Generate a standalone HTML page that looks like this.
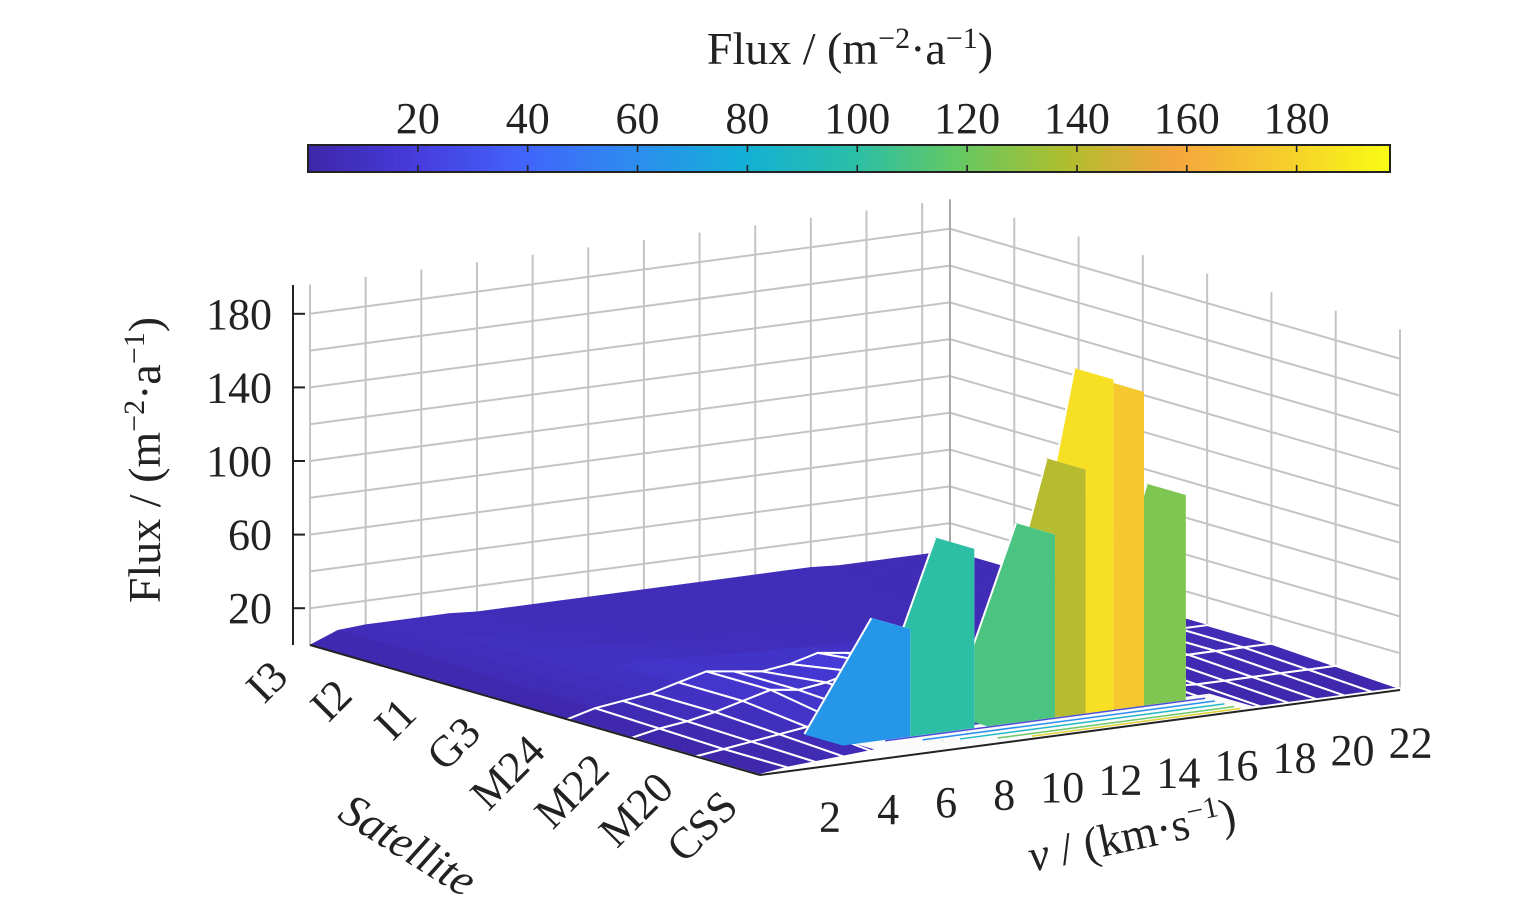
<!DOCTYPE html>
<html><head><meta charset="utf-8">
<style>
html,body{margin:0;padding:0;background:#fff;}
svg{display:block;font-family:"Liberation Serif",serif;}
</style></head>
<body>
<svg id="chart" width="1535" height="917" viewBox="0 0 1535 917" xmlns="http://www.w3.org/2000/svg"></svg>
<script>
// ---- data ----
const satellites = ["I3","I2","I1","G3","M24","M22","M20","CSS"];
const velocityTicks = [2,4,6,8,10,12,14,16,18,20,22];
const zTicks = [20,60,100,140,180];
const colorbarTicks = [20,40,60,80,100,120,140,160,180];
const rowI3  = [0,6,7,7,7,7,6,6,6,6,6,6,6,6,6,6,6,6,6,5,5,5,5,5];
const rowI2  = [0,6,7,8,8,7,7,6,6,6,6,6,6,6,6,6,6,6,6,5,5,5,5,5];
const rowI1  = [0,5,7,9,10,9,8,7,7,6,6,6,6,6,6,6,6,6,5,5,5,5,5,5];
const rowG3  = [0,4,6,8,10,12,11,10,9,8,8,7,7,7,6,6,5,5,5,5,5,5,5,5];
const rowM24 = [0,4,6,8,12,16,14,12,14,18,16,14,12,10,8,6,5,5,5,5,5,5,5,5];
const rowM22 = [0,3,5,8,12,16,14,16,20,22,22,20,18,14,12,10,8,6,5,5,5,5,5,5];
const rowM20 = [0,2,4,6,8,10,12,14,16,16,14,12,10,10,8,8,6,4,3,3,3,3,3,3];
const rowCSS = [0,2,3,4,5,6,6,6,6,6,6,6,6,6,6,6,4,2,1,1,1,1,1,1];
const fluxRows = [rowI3,rowI2,rowI1,rowG3,rowM24,rowM22,rowM20,rowCSS];
// peak slabs (ramps in velocity direction)
const peakV = [7.0, 9.3, 12.2, 13.3, 14.3, 15.4, 16.9];
const peakFlux = [58, 97, 99, 132, 179, 170, 111];
const peakColorFlux = [65, 100, 110, 140, 185, 175, 125];
const vMax = 23, zMax = 196, cMax = 197;

// ---- geometry ----
const L = [310,645], F = [760,775], B = [950,560], zk = 1.84;
function P(s,v,z){
  return [L[0] + s*(F[0]-L[0])/7 + v/vMax*(B[0]-L[0]),
          L[1] + s*(F[1]-L[1])/7 + v/vMax*(B[1]-L[1]) - z*zk];
}
const stops=[[0,[62,38,168]],[0.1,[70,60,220]],[0.2,[66,100,250]],[0.3,[45,140,240]],[0.4,[20,175,215]],[0.5,[40,190,170]],[0.6,[100,200,100]],[0.7,[175,190,45]],[0.8,[245,165,60]],[0.9,[245,205,45]],[1,[249,251,20]]];
function parula(t){
  t=Math.max(0,Math.min(1,t));
  for(let i=1;i<stops.length;i++){
    if(t<=stops[i][0]){const a=stops[i-1],b=stops[i];const f=(t-a[0])/(b[0]-a[0]);
      return `rgb(${a[1].map((c,k)=>Math.round(c+(b[1][k]-c)*f)).join(',')})`;}
  }
  return 'rgb(249,251,20)';
}
const svg=document.getElementById('chart');
const NS='http://www.w3.org/2000/svg';
function el(tag,attrs,parent){const e=document.createElementNS(NS,tag);for(const k in attrs)e.setAttribute(k,attrs[k]);(parent||svg).appendChild(e);return e;}
const pt=p=>p[0].toFixed(1)+','+p[1].toFixed(1);

// walls
const walls=el('g',{});


const gl={stroke:'#c4c4c4','stroke-width':2,fill:'none'};
for(let v=0;v<=22;v+=2){el('line',Object.assign({x1:P(0,v,0)[0],y1:P(0,v,0)[1],x2:P(0,v,zMax)[0],y2:P(0,v,zMax)[1]},gl),walls);}
for(let s=0;s<=7;s++){el('line',Object.assign({x1:P(s,vMax,0)[0],y1:P(s,vMax,0)[1],x2:P(s,vMax,zMax)[0],y2:P(s,vMax,zMax)[1]},gl),walls);}
for(let z=20;z<=zMax;z+=20){
  el('polyline',Object.assign({points:[P(0,0,z),P(0,vMax,z),P(7,vMax,z)].map(pt).join(' ')},gl),walls);
}
el('line',{x1:P(0,vMax,0)[0],y1:P(0,vMax,0)[1],x2:P(0,vMax,zMax)[0],y2:P(0,vMax,zMax)[1],stroke:'#aaa','stroke-width':2},walls);

// base surface
const quads=[];
for(let s=0;s<7;s++)for(let v=0;v<vMax;v++){
  quads.push({s,v,key:P(s+0.5,v+0.5,0)[1]});
}
quads.sort((a,b)=>a.key-b.key);
const surf=el('g',{});


quads.forEach(q=>{
  const {s,v}=q;
  const z1=fluxRows[s][v],z2=fluxRows[s+1][v],z3=fluxRows[s+1][v+1],z4=fluxRows[s][v+1];
  const avg=(z1+z2+z3+z4)/4;
  const col=parula(avg/cMax);
  const stroke=(s>=4)?'#fff':col;
  const poly=el('polygon',{points:[P(s,v,z1),P(s+1,v,z2),P(s+1,v+1,z3),P(s,v+1,z4)].map(pt).join(' '),fill:col,stroke:stroke,'stroke-width':s>=4?2:0.6,'stroke-linejoin':'round'},surf);
  
  
});

// white floor patch with contour lines in front of the peaks
const floorPatch=el('polygon',{points:[P(6.2,5,0),P(7,5,0),P(7,18,0),P(6.2,18,0)].map(pt).join(' '),fill:'#fbfbfb',stroke:'none'});


const contourS=[6.35,6.5,6.65,6.8,6.9];
const contourCols=['#4a4ad8','#2b8ff0','#22b8c8','#6cc86a','#e0d030'];
contourS.forEach((s,i)=>{
  const c=el('line',{x1:P(s,6+i,0)[0],y1:P(s,6+i,0)[1],x2:P(s,17.5,0)[0],y2:P(s,17.5,0)[1],stroke:contourCols[i],'stroke-width':1.5});
  
  
});

// peak slabs, far (high v) first
const slabs=el('g',{});


const order=peakV.map((v,i)=>i).sort((a,b)=>peakV[b]-peakV[a]);
const sA=5.7, sB=6.3, ramp=2.4;
order.forEach(i=>{
  const v=peakV[i], h=peakFlux[i], col=parula(peakColorFlux[i]/cMax);
  const w=el('polygon',{points:[P(sA,v,h),P(sB,v,h),P(sB,v,0),P(sA,v,0)].map(pt).join(' '),fill:'#fff',stroke:'#fff','stroke-width':1},slabs);
  
  
  const side=el('polygon',{points:[P(sB,v-ramp,0),P(sB,v,h),P(sB,v,0)].map(pt).join(' '),fill:col,stroke:col,'stroke-width':1},slabs);
  
  
  const top=el('polygon',{points:[P(sA,v-ramp,0),P(sA,v,h),P(sB,v,h),P(sB,v-ramp,0)].map(pt).join(' '),fill:col,stroke:col,'stroke-width':1},slabs);
  
  
  const edge=el('line',{x1:P(sA,v-ramp,0)[0],y1:P(sA,v-ramp,0)[1],x2:P(sA,v,h)[0],y2:P(sA,v,h)[1],stroke:'#fff','stroke-width':2},slabs);
  
  
});

// z axis
const zAxis=el('g',{});


el('line',{x1:293,y1:285,x2:293,y2:645,stroke:'#222','stroke-width':2},zAxis);
zTicks.forEach(z=>{
  const y=645-z*zk;
  el('line',{x1:293,y1:y,x2:305,y2:y,stroke:'#222','stroke-width':2},zAxis);
  const t=el('text',{x:272,y:y+15,'text-anchor':'end','font-size':44,fill:'#222'},zAxis);
  t.textContent=z;
  
  
});
// satellite axis
satellites.forEach((n,i)=>{
  const p=P(i,0,0);
  const t=el('text',{x:p[0]-20,y:p[1]+34,'text-anchor':'end','font-size':44,fill:'#222',transform:`rotate(-45 ${p[0]-20} ${p[1]+34})`});
  t.textContent=n;
  
  
});
el('line',{x1:L[0],y1:L[1],x2:F[0],y2:F[1],stroke:'#222','stroke-width':2});
el('line',{x1:F[0],y1:F[1],x2:P(7,vMax,0)[0],y2:P(7,vMax,0)[1],stroke:'#222','stroke-width':2});
velocityTicks.forEach(v=>{
  const p=P(7,v,0);
  const tx=p[0]+12+v*1.2;
  const t=el('text',{x:tx,y:p[1]+64,'text-anchor':'middle','font-size':44,fill:'#222'});
  t.textContent=v;
  
  
});
// axis titles
let t=el('text',{x:0,y:0,'text-anchor':'middle','font-size':46,fill:'#222',transform:'translate(160,460) rotate(-90)'});

t.innerHTML='Flux / (m<tspan dy="-16" font-size="30">−2</tspan><tspan dy="16">·a</tspan><tspan dy="-16" font-size="30">−1</tspan><tspan dy="16">)</tspan>';
t=el('text',{x:0,y:0,'text-anchor':'middle','font-size':46,'font-style':'italic',fill:'#222',transform:'translate(400,858) rotate(32)'});

t.textContent='Satellite';
t=el('text',{x:0,y:0,'text-anchor':'middle','font-size':46,fill:'#222',transform:'translate(1135,850) rotate(-12)'});

t.innerHTML='<tspan font-style="italic">v</tspan> / (km·s<tspan dy="-16" font-size="30">−1</tspan><tspan dy="16">)</tspan>';

// colorbar
const cb=el('g',{});


const cbx0=308,cbx1=1390,cby=145,cbh=27;
for(let i=0;i<200;i++){
  const x=cbx0+(cbx1-cbx0)*i/200;
  el('rect',{x:x,y:cby,width:(cbx1-cbx0)/200+0.6,height:cbh,fill:parula((i+0.5)/200)},cb);
}
el('rect',{x:cbx0,y:cby,width:cbx1-cbx0,height:cbh,fill:'none',stroke:'#222','stroke-width':2},cb);
colorbarTicks.forEach(c=>{
  const x=cbx0+c/cMax*(cbx1-cbx0);
  el('line',{x1:x,y1:cby,x2:x,y2:cby+7,stroke:'#222','stroke-width':1.6},cb);
  el('line',{x1:x,y1:cby+cbh,x2:x,y2:cby+cbh-7,stroke:'#222','stroke-width':1.6},cb);
  const tt=el('text',{x:x,y:cby-12,'text-anchor':'middle','font-size':44,fill:'#222'},cb);
  tt.textContent=c;
  
  
});
t=el('text',{x:850,y:64,'text-anchor':'middle','font-size':46,fill:'#222'});

t.innerHTML='Flux / (m<tspan dy="-16" font-size="30">−2</tspan><tspan dy="16">·a</tspan><tspan dy="-16" font-size="30">−1</tspan><tspan dy="16">)</tspan>';
</script>
</body></html>
